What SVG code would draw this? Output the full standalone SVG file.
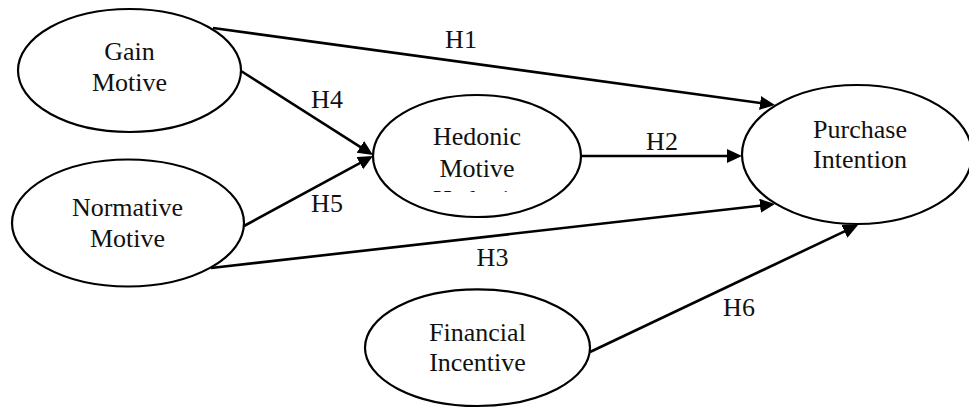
<svg xmlns="http://www.w3.org/2000/svg" width="969" height="408" viewBox="0 0 969 408">
<style>
.node{fill:#fff;stroke:#000;stroke-width:2.2}
.t{font-family:"Liberation Serif","Times New Roman",serif;font-size:26px;fill:#111;text-anchor:middle}
.edge{stroke:#000;stroke-width:2.6;fill:none;marker-end:url(#ah)}
</style>
<defs>
<marker id="ah" markerUnits="userSpaceOnUse" markerWidth="16" markerHeight="15" refX="10" refY="7" orient="auto">
<path d="M0,0 L15,7 L0,14 z" fill="#000"/>
</marker>
<clipPath id="hclip"><rect x="370" y="90" width="215" height="102"/></clipPath>
</defs>
<rect width="969" height="408" fill="#fff"/>
<g id="connectors">
<line class="edge" x1="213" y1="28" x2="770" y2="104.3"/>
<line class="edge" x1="241" y1="71" x2="368.8" y2="152.3"/>
<line class="edge" x1="244" y1="226" x2="368.6" y2="158.4"/>
<line class="edge" x1="581" y1="156" x2="737" y2="156"/>
<line class="edge" x1="211" y1="268" x2="770" y2="204.6"/>
<line class="edge" x1="590" y1="352" x2="853.5" y2="227.1"/>
<text class="t" x="461" y="48">H1</text>
<text class="t" x="327" y="108">H4</text>
<text class="t" x="327" y="212">H5</text>
<text class="t" x="662" y="150">H2</text>
<text class="t" x="492.5" y="266">H3</text>
<text class="t" x="739" y="316">H6</text>
</g>
<g id="gain">
<ellipse class="node" cx="129.5" cy="70.5" rx="111.5" ry="61.5"/>
<text class="t" x="129.5" y="60">Gain</text>
<text class="t" x="129.5" y="91">Motive</text>
</g>
<g id="normative">
<ellipse class="node" cx="128" cy="223" rx="116" ry="63.5"/>
<text class="t" x="127.5" y="216">Normative</text>
<text class="t" x="127.5" y="247">Motive</text>
</g>
<g id="hedonic">
<ellipse class="node" cx="477" cy="156" rx="104" ry="61"/>
<text class="t" x="477" y="145">Hedonic</text>
<text class="t" x="477" y="177">Motive</text>
<text class="t" x="477" y="208" clip-path="url(#hclip)">Hedonic</text>
</g>
<g id="purchase">
<ellipse class="node" cx="857" cy="154.5" rx="115" ry="69.5"/>
<text class="t" x="860" y="138">Purchase</text>
<text class="t" x="860" y="168">Intention</text>
</g>
<g id="financial">
<ellipse class="node" cx="477.5" cy="347.7" rx="112.5" ry="58.3"/>
<text class="t" x="477.5" y="341">Financial</text>
<text class="t" x="477.5" y="371">Incentive</text>
</g>
</svg>
